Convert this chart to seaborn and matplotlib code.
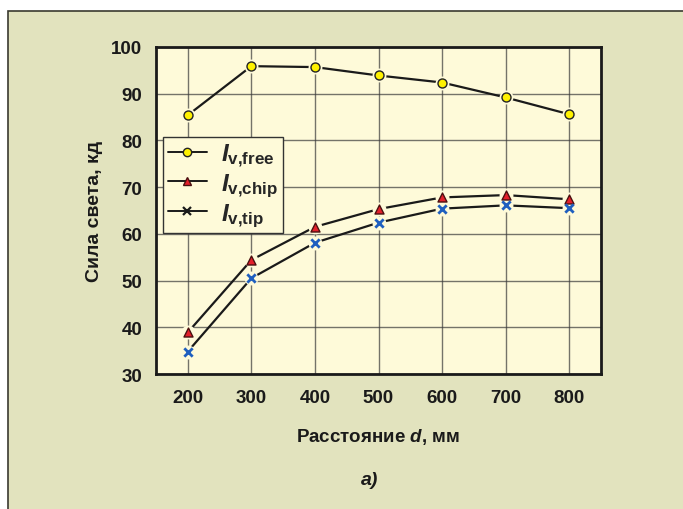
"""Luminous intensity vs. distance, three measurement setups."""

import matplotlib

matplotlib.use("Agg")

import matplotlib.pyplot as plt
import pandas as pd
import seaborn as sns
from matplotlib.lines import Line2D
from matplotlib.patches import Rectangle

DISTANCE_MM = [200, 300, 400, 500, 600, 700, 800]
IV_FREE = [85.4, 95.9, 95.7, 93.9, 92.4, 89.2, 85.6]
IV_CHIP = [38.9, 54.4, 61.5, 65.3, 67.8, 68.3, 67.4]
IV_TIP = [34.8, 50.5, 58.1, 62.4, 65.4, 66.1, 65.5]

SERIES_NAMES = ["free", "chip", "tip"]
SERIES_LABELS = [
    r"$\mathit{I}_{\mathbf{v{,}free}}$",
    r"$\mathit{I}_{\mathbf{v{,}chip}}$",
    r"$\mathit{I}_{\mathbf{v{,}tip}}$",
]
Y_TICKS = [30, 40, 50, 60, 70, 80, 90, 100]

PAGE_BG = "#E2E3BE"
PLOT_BG = "#FEFAD9"
INK = "#1a1a1a"
MARKERS = {"free": "o", "chip": "^", "tip": "x"}
FACE = {"free": "#FFF200", "chip": "#E3202B", "tip": "#1F5FBF"}
EDGE = {"free": "#222222", "chip": "#4A1010", "tip": "#1F5FBF"}

sns.set_theme(style="whitegrid")
plt.rcParams["font.family"] = ["Liberation Sans", "DejaVu Sans"]
plt.rcParams["font.weight"] = "bold"
plt.rcParams["mathtext.fontset"] = "custom"
plt.rcParams["mathtext.it"] = "Liberation Sans:bold:italic"
plt.rcParams["mathtext.bf"] = "Liberation Sans:bold"
plt.rcParams["mathtext.rm"] = "Liberation Sans:bold"

data = pd.DataFrame(
    {
        "distance": DISTANCE_MM * 3,
        "intensity": IV_FREE + IV_CHIP + IV_TIP,
        "series": [name for name in SERIES_NAMES for _ in DISTANCE_MM],
    }
)

fig = plt.figure(figsize=(6.83, 5.1), dpi=100, facecolor="white")
fig.patches.append(
    Rectangle(
        (8 / 683, -0.1), 1.2, (510 - 12) / 510 + 0.1,
        transform=fig.transFigure, facecolor=PAGE_BG, edgecolor="#3a3a30",
        linewidth=1.2, zorder=-10,
    )
)
ax = fig.add_axes([156 / 683, 1 - 375 / 510, 445 / 683, 327 / 510])
ax.set_facecolor(PLOT_BG)

# connecting lines
sns.lineplot(
    data=data, x="distance", y="intensity", hue="series",
    palette={name: INK for name in SERIES_NAMES},
    linewidth=1.6, legend=False, ax=ax, zorder=3,
)

# small gaps around the markers, then the markers themselves
for name in SERIES_NAMES:
    subset = data[data["series"] == name]
    ax.plot(subset["distance"], subset["intensity"], linestyle="none",
            marker="o", markersize=10, markerfacecolor=PLOT_BG,
            markeredgecolor="none", zorder=4)
    if name == "tip":
        sns.scatterplot(data=subset, x="distance", y="intensity", marker="x",
                        color=FACE[name], s=36, linewidth=2.0, ax=ax, zorder=5)
    else:
        sns.scatterplot(data=subset, x="distance", y="intensity", marker=MARKERS[name],
                        color=FACE[name], edgecolor=EDGE[name], s=42,
                        linewidth=1.0, ax=ax, zorder=5)

ax.set_xlim(150, 850)
ax.set_ylim(30, 100)
ax.set_xticks(DISTANCE_MM)
ax.set_yticks(Y_TICKS)
ax.tick_params(axis="y", length=0, labelsize=13.5, pad=10, colors=INK)
ax.tick_params(axis="x", length=0, labelsize=13.5, pad=11, colors=INK)
for label in ax.get_xticklabels() + ax.get_yticklabels():
    label.set_fontweight("bold")
ax.grid(True, color="#3a3a3a", linewidth=1.0, alpha=0.7)
for spine in ax.spines.values():
    spine.set_color(INK)
    spine.set_linewidth(2.0)

ax.set_xlabel(r"Расстояние $\mathit{d}$, мм", fontsize=13.5, fontweight="bold",
              color=INK, labelpad=14)
ax.set_ylabel("Сила света, кд", fontsize=14, fontweight="bold",
              color=INK, labelpad=6)

handles = []
for name, label in zip(SERIES_NAMES, SERIES_LABELS):
    if name == "tip":
        handle = Line2D([], [], color=INK, linewidth=1.4, marker="x",
                        markersize=5.5, markeredgecolor=INK, markeredgewidth=1.6, label=label)
    else:
        handle = Line2D([], [], color=INK, linewidth=1.4, marker=MARKERS[name],
                        markersize=6, markerfacecolor=FACE[name],
                        markeredgecolor=EDGE[name], label=label)
    handles.append(handle)

legend = ax.legend(
    handles=handles, loc="upper left", bbox_to_anchor=(0.016, 0.725),
    fontsize=17.5, frameon=True, fancybox=False, handlelength=1.6,
    handletextpad=0.6, borderpad=0.2, labelspacing=0.1,
    borderaxespad=0,
)
legend.get_frame().set_facecolor(PLOT_BG)
legend.get_frame().set_edgecolor("#333333")
legend.get_frame().set_linewidth(1.0)
legend.get_frame().set_alpha(1.0)
legend.set_zorder(6)

fig.text(370 / 683, 1 - 481 / 510, "а)", fontsize=14, fontweight="bold",
         style="italic", color=INK, ha="center", va="center")

fig.savefig("out.png", dpi=100, facecolor=fig.get_facecolor())
